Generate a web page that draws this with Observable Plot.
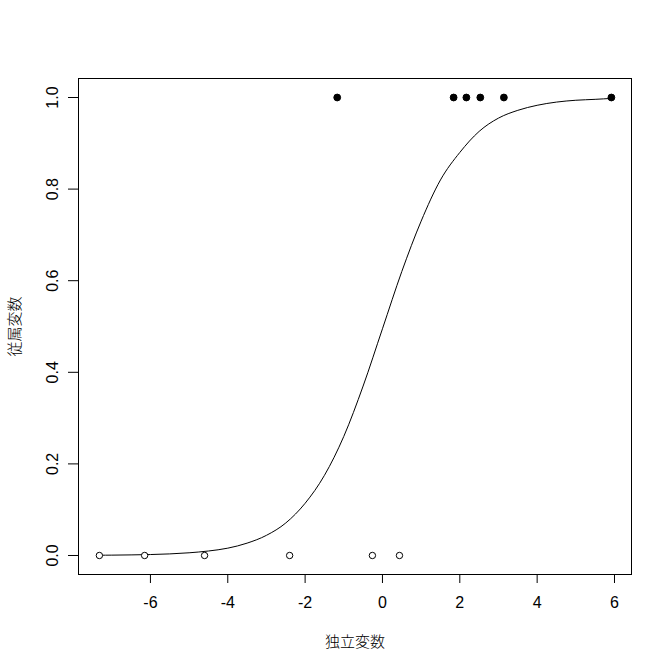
<!DOCTYPE html>
<html lang="ja">
<head>
<meta charset="UTF-8">
<script src="https://cdn.jsdelivr.net/npm/d3@7"></script>
<script src="https://cdn.jsdelivr.net/npm/@observablehq/plot@0.6"></script>
<style>
  body { margin: 0; background: #fff; }
  #chart svg { font-family: "Liberation Sans", Arial, sans-serif; }
</style>
</head>
<body>
<div id="chart"></div>
<script>
// observed points (y = 0 open, y = 1 filled)
const zeroX = [-7.32, -6.15, -4.60, -2.40, -0.26, 0.44];
const oneX = [-1.17, 1.84, 2.17, 2.53, 3.14, 5.92];

// fitted curve, values
const curveX = [-7.32, -7, -6.5, -6, -5.5, -5, -4.5, -4, -3.5, -3, -2.5, -2, -1.5, -1, -0.5,
  0, 0.5, 1, 1.5, 2, 2.5, 3, 3.5, 4, 4.5, 5, 5.5, 5.92];
const curveY = [0.0006, 0.0008, 0.0013, 0.0021, 0.0035, 0.0059, 0.0098, 0.016, 0.027, 0.044, 0.071, 0.114, 0.175, 0.26, 0.37,
  0.495, 0.62, 0.73, 0.82, 0.88, 0.926, 0.955, 0.972, 0.983, 0.99, 0.994, 0.996, 0.998];

const xTicks = [-6, -4, -2, 0, 2, 4, 6];
const yTicks = [0, 0.2, 0.4, 0.6, 0.8, 1.0];
const xLabel = "独立変数";
const yLabel = "従属変数";

const pts = [
  ...zeroX.map(x => ({x, y: 0})),
  ...oneX.map(x => ({x, y: 1}))
];
const curve = curveX.map((x, i) => ({x, y: curveY[i]}));

const cjk = '"Noto Sans CJK JP", "Noto Sans CJK SC", sans-serif';

const chart = Plot.plot({
  width: 672,
  height: 672,
  marginLeft: 78,
  marginRight: 41,
  marginTop: 78,
  marginBottom: 98,
  style: {fontSize: "16px", fontFamily: '"Liberation Sans", Arial, sans-serif', color: "black"},
  x: {domain: [-7.86, 6.44]},
  y: {domain: [-0.0415, 1.0415]},
  marks: [
    Plot.frame({stroke: "black", strokeWidth: 1}),
    // plain hyphen for negatives, like the original
    Plot.axisX({ticks: xTicks, tickSize: 9, tickPadding: 13, label: null, tickFormat: d => String(d), fontSize: 16}),
    Plot.axisY({ticks: yTicks, tickSize: 10, tickPadding: 11, tickRotate: -90, label: null, tickFormat: d3.format(".1f"), fontSize: 16}),
    Plot.line(curve, {x: "x", y: "y", stroke: "black", strokeWidth: 1, curve: "monotone-x"}),
    Plot.dot(pts.filter(d => d.y === 0), {x: "x", y: "y", r: 3.2, stroke: "black", strokeWidth: 1, fill: "white"}),
    Plot.dot(pts.filter(d => d.y === 1), {x: "x", y: "y", r: 3.4, stroke: "black", strokeWidth: 1, fill: "black"}),
    Plot.text([xLabel], {frameAnchor: "bottom", dy: 72, text: d => d, fontSize: 15, fontWeight: 300, fontFamily: cjk, fill: "black"}),
    Plot.text([yLabel], {frameAnchor: "left", textAnchor: "middle", dx: -63, rotate: -90, text: d => d, fontSize: 15, fontWeight: 300, fontFamily: cjk, fill: "black"})
  ]
});

document.querySelector("#chart").append(chart);
</script>
</body>
</html>
